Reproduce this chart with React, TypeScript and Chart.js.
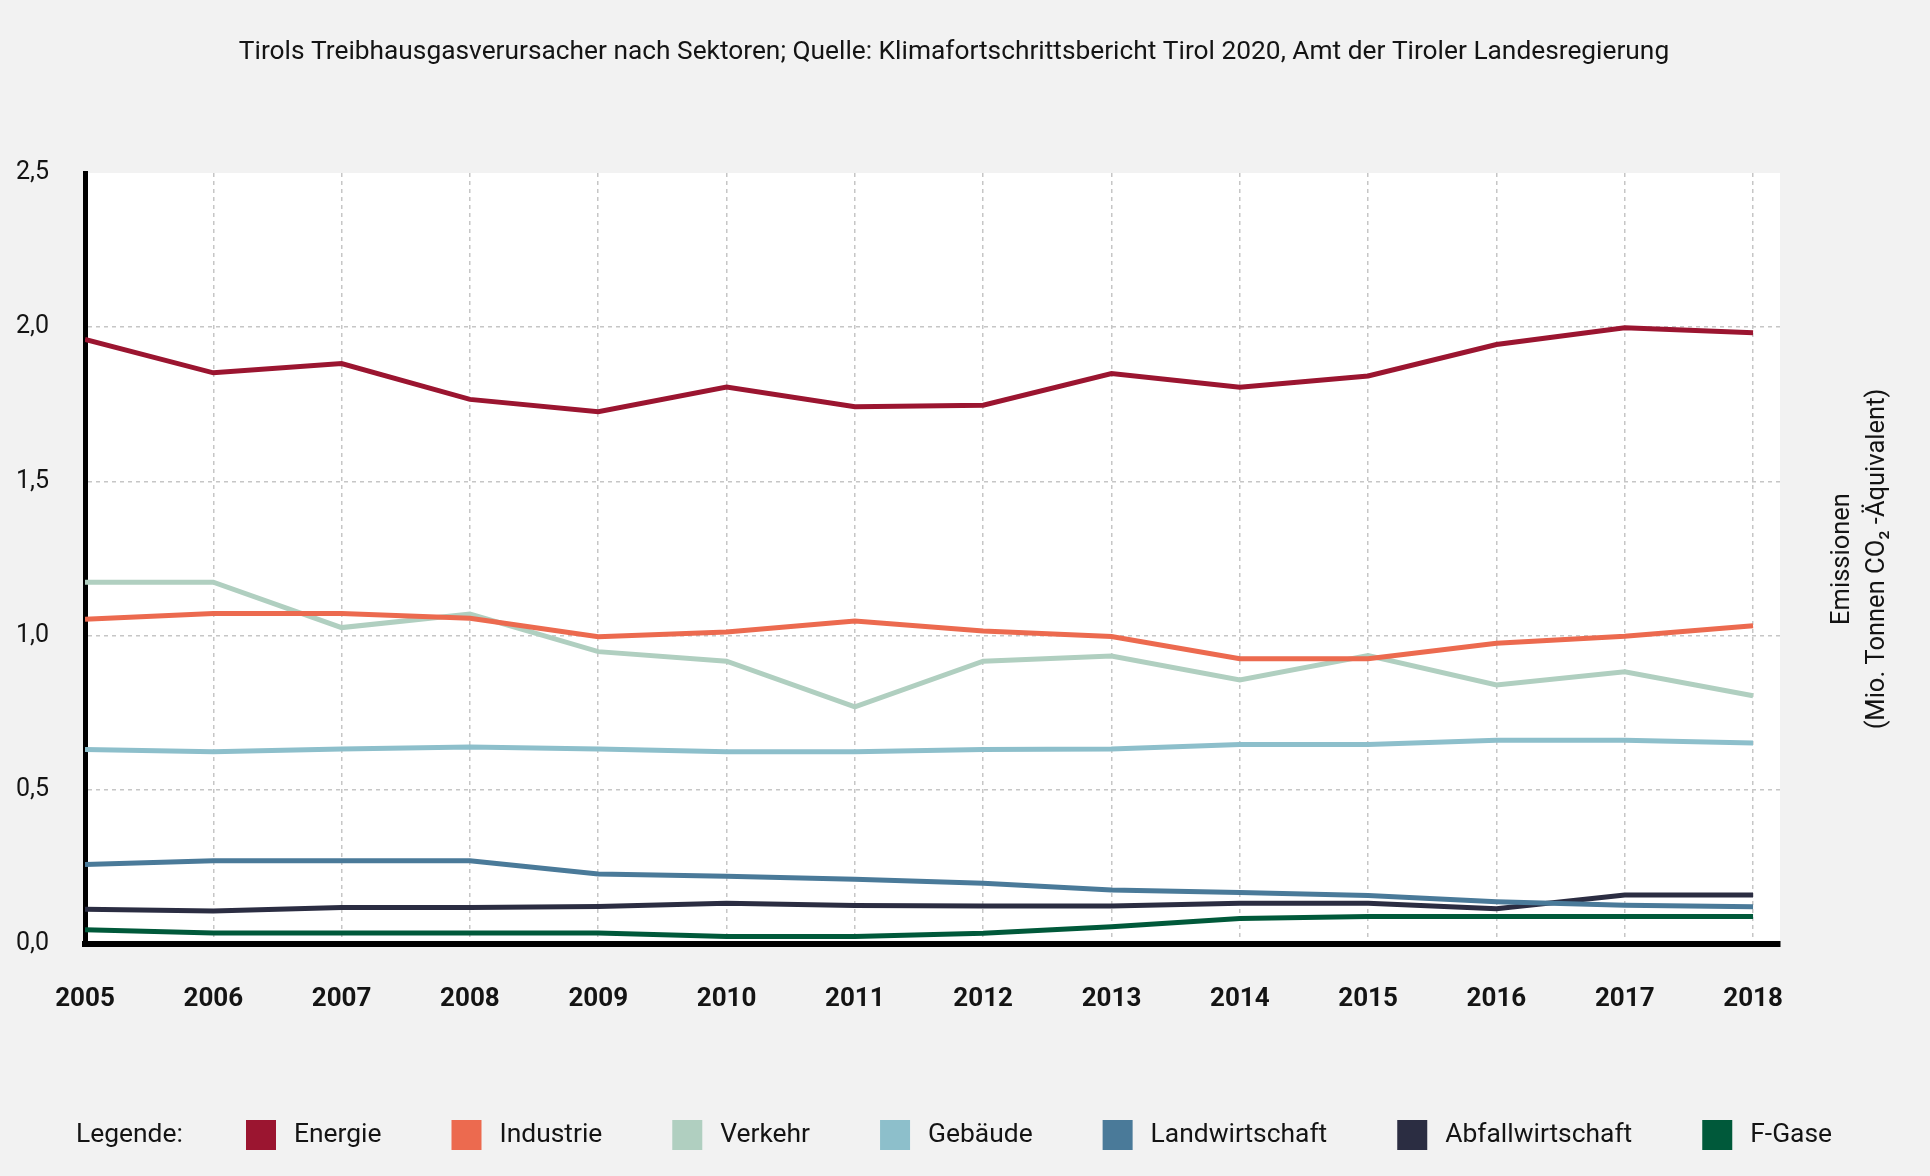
import React, { useEffect, useRef } from "react";
import { Chart, registerables } from "chart.js";

Chart.register(...registerables);

const years = [2005, 2006, 2007, 2008, 2009, 2010, 2011, 2012, 2013, 2014, 2015, 2016, 2017, 2018];

const energie = [1.96, 1.852, 1.882, 1.766, 1.726, 1.806, 1.742, 1.747, 1.85, 1.805, 1.842, 1.944, 1.998, 1.982];
const industrie = [1.053, 1.072, 1.072, 1.056, 0.996, 1.012, 1.047, 1.015, 0.997, 0.925, 0.925, 0.975, 0.998, 1.032];
const verkehr = [1.173, 1.173, 1.026, 1.07, 0.948, 0.917, 0.769, 0.917, 0.934, 0.856, 0.935, 0.84, 0.883, 0.805];
const gebaeude = [0.631, 0.623, 0.632, 0.639, 0.632, 0.623, 0.623, 0.631, 0.632, 0.647, 0.647, 0.661, 0.661, 0.652];
const landwirtschaft = [0.258, 0.27, 0.27, 0.27, 0.227, 0.22, 0.21, 0.197, 0.175, 0.167, 0.157, 0.137, 0.126, 0.121];
const abfallwirtschaft = [0.113, 0.107, 0.118, 0.118, 0.122, 0.132, 0.125, 0.123, 0.123, 0.132, 0.132, 0.114, 0.159, 0.159];
const fGase = [0.046, 0.036, 0.036, 0.036, 0.036, 0.024, 0.024, 0.035, 0.056, 0.083, 0.089, 0.089, 0.089, 0.089];

const seriesNames = ["Energie", "Industrie", "Verkehr", "Gebäude", "Landwirtschaft", "Abfallwirtschaft", "F-Gase"];
const seriesValues = [energie, industrie, verkehr, gebaeude, landwirtschaft, abfallwirtschaft, fGase];
const seriesColors = ["#9b1530", "#ec6a4f", "#b0cfc0", "#8dbfcb", "#4a7a99", "#2b2d42", "#00593a"];

const yTicks = [0, 0.5, 1, 1.5, 2, 2.5];

const titleText = "Tirols Treibhausgasverursacher nach Sektoren; Quelle: Klimafortschrittsbericht Tirol 2020, Amt der Tiroler Landesregierung";
const axisTitleLines = ["Emissionen", "(Mio. Tonnen CO\u2082 -Äquivalent)"];
const legendTitle = "Legende:";

const FONT = "Roboto, 'Noto Sans', sans-serif";
const TEXT = "#141414";
const BG = "#f2f2f2";

const decorPlugin = {
  id: "decor",
  beforeDraw(chart: any) {
    const { ctx, chartArea } = chart;
    ctx.save();
    ctx.fillStyle = BG;
    ctx.fillRect(0, 0, chart.width, chart.height);
    ctx.fillStyle = "#ffffff";
    ctx.fillRect(chartArea.left, chartArea.top, chartArea.right - chartArea.left, chartArea.bottom - chartArea.top);
    ctx.restore();
  },
  afterDraw(chart: any) {
    const { ctx } = chart;
    ctx.save();
    ctx.fillStyle = TEXT;
    // title
    ctx.font = `26.3px ${FONT}`;
    ctx.textAlign = "center";
    ctx.textBaseline = "middle";
    ctx.fillText(titleText, 954, 52);

    // right axis title (rotated, reads bottom to top)
    ctx.font = `25.5px ${FONT}`;
    const cxs = [1843, 1878];
    axisTitleLines.forEach((line, i) => {
      ctx.save();
      ctx.translate(cxs[i], 559);
      ctx.rotate(-Math.PI / 2);
      ctx.textAlign = "center";
      ctx.textBaseline = "middle";
      ctx.fillText(line, 0, 0);
      ctx.restore();
    });

    // legend
    const ly = 1135;
    ctx.font = `26.4px ${FONT}`;
    ctx.textAlign = "left";
    ctx.textBaseline = "middle";
    ctx.fillText(legendTitle, 76, ly);
    let x = 246;
    chart.data.datasets.forEach((ds: any) => {
      ctx.fillStyle = ds.borderColor;
      ctx.fillRect(x, ly - 15, 30, 30);
      ctx.fillStyle = TEXT;
      const tx = x + 48;
      ctx.fillText(ds.label, tx, ly);
      x = tx + ctx.measureText(ds.label).width + 70;
    });
    ctx.restore();
  },
};

export default function App() {
  const ref = useRef<HTMLCanvasElement | null>(null);

  useEffect(() => {
    if (!ref.current) return;
    const datasets = seriesNames.map((name, i) => ({
      label: name,
      data: years.map((yr, j) => ({ x: yr, y: seriesValues[i][j] })),
      borderColor: seriesColors[i],
      backgroundColor: seriesColors[i],
      borderWidth: 5,
      pointRadius: 0,
      pointHoverRadius: 0,
      tension: 0,
      fill: false,
      borderCapStyle: "butt",
      borderJoinStyle: "miter",
    }));

    const chart = new Chart(ref.current, {
      type: "line",
      data: { datasets } as any,
      plugins: [decorPlugin],
      options: {
        responsive: false,
        animation: false,
        devicePixelRatio: 1,
        layout: { padding: { left: 16, top: 173, right: 150, bottom: 0 } },
        plugins: {
          legend: { display: false },
          title: { display: false },
          tooltip: { enabled: false },
        },
        scales: {
          x: {
            type: "linear",
            min: years[0],
            max: years[years.length - 1] + 0.21,
            afterFit: (scale: any) => {
              scale.height = 232;
            },
            ticks: {
              stepSize: 1,
              includeBounds: false,
              autoSkip: false,
              maxRotation: 0,
              padding: 40,
              color: TEXT,
              font: { family: FONT, size: 26, weight: "bold" },
              callback: (v: any) => (years.includes(Number(v)) ? String(v) : ""),
            },
            grid: {
              drawTicks: false,
              color: "#c6c6c6",
              lineWidth: 1.5,
            },
            border: { display: true, color: "#000000", width: 6, dash: [4, 4] },
          },
          y: {
            type: "linear",
            min: yTicks[0],
            max: yTicks[yTicks.length - 1],
            afterFit: (scale: any) => {
              scale.width = 69;
            },
            afterBuildTicks: (scale: any) => {
              scale.ticks = yTicks.map((v) => ({ value: v }));
            },
            ticks: {
              crossAlign: "far",
              padding: 0,
              color: TEXT,
              font: { family: FONT, size: 25 },
              callback: (v: any) => Number(v).toFixed(1).replace(".", ","),
            },
            grid: {
              drawTicks: false,
              color: (c: any) => (c.tick && c.tick.value === yTicks[yTicks.length - 1] ? "rgba(0,0,0,0)" : "#c6c6c6"),
              lineWidth: 1.5,
            },
            border: { display: true, color: "#000000", width: 5, dash: [4, 4] },
          },
        },
      } as any,
    });
    return () => chart.destroy();
  }, []);

  return (
    <div style={{ position: "fixed", left: 0, top: 0, width: 1930, height: 1176, background: BG, overflow: "hidden" }}>
      <canvas ref={ref} width={1930} height={1176} style={{ width: 1930, height: 1176, display: "block" }} />
    </div>
  );
}
